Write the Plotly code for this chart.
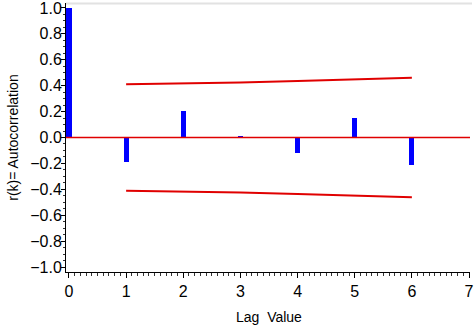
import plotly.graph_objects as go

lags = [0, 1, 2, 3, 4, 5, 6]
acf = [1.0, -0.19, 0.205, 0.01, -0.12, 0.153, -0.21]
band_lags = [1, 2, 3, 4, 5, 6]
upper = [0.41, 0.416, 0.425, 0.436, 0.447, 0.462]
lower = [-0.41, -0.416, -0.425, -0.436, -0.447, -0.462]
x_ticks = [0, 1, 2, 3, 4, 5, 6, 7]
y_ticks = [-1.0, -0.8, -0.6, -0.4, -0.2, 0.0, 0.2, 0.4, 0.6, 0.8, 1.0]

FONT = "Liberation Sans, Arial, sans-serif"

fig = go.Figure()
fig.add_trace(go.Bar(x=lags, y=acf, width=0.09, marker=dict(color="#0000ff", line=dict(width=0))))
fig.add_trace(go.Scatter(x=band_lags, y=upper, mode="lines", line=dict(color="#e00000", width=2)))
fig.add_trace(go.Scatter(x=band_lags, y=lower, mode="lines", line=dict(color="#e00000", width=2)))

fig.update_layout(
    width=474, height=326,
    margin=dict(l=66, r=2, t=0, b=54),
    paper_bgcolor="white", plot_bgcolor="white",
    showlegend=False,
    bargap=0,
    font=dict(family=FONT, color="black", size=14),
    xaxis=dict(
        range=[-0.052, 7.017], tickvals=x_ticks,
        showgrid=False, zeroline=False, showline=True, linecolor="black", linewidth=1,
        ticks="outside", ticklen=5, tickcolor="black", tickwidth=1,
        minor=dict(dtick=0.1, tick0=0, ticks="outside", ticklen=3, tickcolor="#333", tickwidth=1),
        tickfont=dict(size=16, family=FONT),
        ticklabeloverflow="allow",
    ),
    yaxis=dict(
        range=[-1.038, 1.038], tickvals=y_ticks,
        tickformat=".1f",
        showgrid=False, zeroline=False, showline=True, linecolor="black", linewidth=1,
        ticks="outside", ticklen=4, tickcolor="black", tickwidth=1,
        minor=dict(dtick=0.05, tick0=0, ticks="outside", ticklen=2, tickcolor="#333", tickwidth=1),
        tickfont=dict(size=16, family=FONT),
        ticklabeloverflow="allow",
        ticklabelstandoff=-4,
    ),
    shapes=[
        dict(type="line", xref="paper", yref="y", x0=0, x1=1, y0=0, y1=0,
             line=dict(color="#e00000", width=1.5), layer="above"),
        dict(type="line", xref="paper", yref="paper", x0=0, x1=1.005, y0=0.998, y1=0.998,
             line=dict(color="#e2e2e2", width=2)),
    ],
    annotations=[
        dict(text="r(k)= Autocorrelation", xref="paper", yref="paper", x=-0.133, y=0.5,
             textangle=-90, showarrow=False, xanchor="center", yanchor="middle",
             font=dict(size=14, family=FONT)),
        dict(text="Lag  Value", xref="paper", yref="paper", x=0.502, y=-0.169,
             showarrow=False, xanchor="center", yanchor="middle",
             font=dict(size=14, family=FONT)),
    ],
)

fig.write_html("out.html")
